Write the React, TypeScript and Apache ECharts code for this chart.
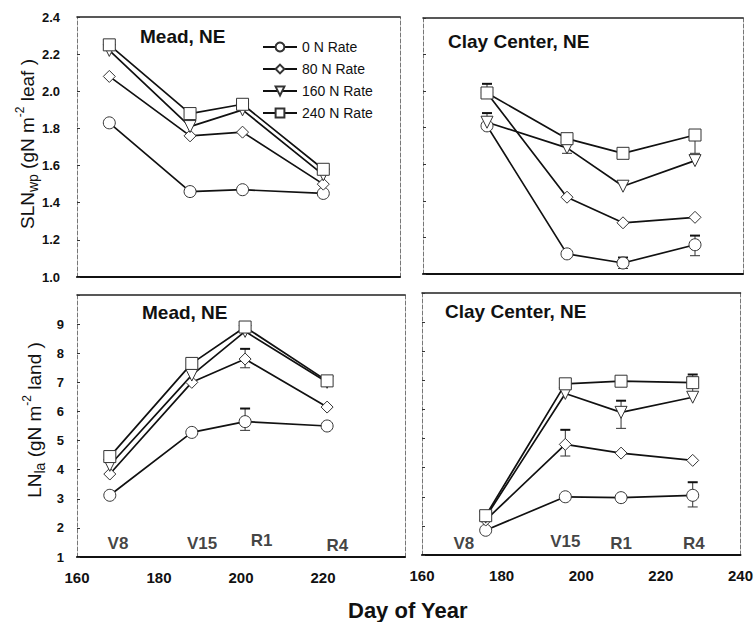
import React, { useEffect, useRef } from "react";
import * as echarts from "echarts";

const FF = '"Liberation Sans", Arial, Helvetica, sans-serif';

// Sampling days (day of year)
const daysMead = [168, 188, 201, 221];
const daysClay = [176, 196, 210, 228];

const rates = ["0 N Rate", "80 N Rate", "160 N Rate", "240 N Rate"];
const symbols = ["circle", "diamond", "triangle", "rect"];
const symbolRotations = [0, 0, 180, 0];

// SLNwp, Mead
const slnMead0 = [1.83, 1.46, 1.47, 1.45];
const slnMead80 = [2.08, 1.76, 1.78, 1.5];
const slnMead160 = [2.22, 1.81, 1.9, 1.55];
const slnMead240 = [2.25, 1.88, 1.93, 1.58];

// SLNwp, Clay Center
const slnClay0 = [1.81, 1.11, 1.06, 1.16];
const slnClay80 = [1.99, 1.42, 1.28, 1.31];
const slnClay160 = [1.83, 1.69, 1.48, 1.62];
const slnClay240 = [1.99, 1.74, 1.66, 1.76];

// LNla, Mead
const lnMead0 = [3.12, 5.28, 5.65, 5.5];
const lnMead80 = [3.85, 7.0, 7.8, 6.15];
const lnMead160 = [4.15, 7.25, 8.75, 7.0];
const lnMead240 = [4.45, 7.65, 8.9, 7.05];

// LNla, Clay Center
const lnClay0 = [1.85, 3.0, 2.97, 3.05];
const lnClay80 = [2.2, 4.8, 4.5, 4.25];
const lnClay160 = [2.3, 6.55, 5.9, 6.42];
const lnClay240 = [2.35, 6.88, 6.97, 6.92];

// Error bars [day, low, high]
const errSlnMead: number[][] = [];
const errSlnClay = [
  [176, 1.99, 2.04],
  [176, 1.81, 1.88],
  [196, 1.66, 1.76],
  [228, 1.66, 1.78],
  [210, 1.03, 1.09],
  [228, 1.1, 1.21],
];
const errLnMead = [
  [201, 7.5, 8.15],
  [201, 5.35, 6.1],
];
const errLnClay = [
  [228, 2.65, 3.5],
  [228, 6.6, 7.2],
  [210, 5.35, 6.3],
  [196, 4.4, 5.3],
];

// Growth stage labels
const stageNames = ["V8", "V15", "R1", "R4"];
const stageDaysMead = [170, 190.5, 205, 223.5];
const stageYMead = [1.48, 1.48, 1.58, 1.38];
const stageDaysClay = [170.5, 196, 210, 228.3];
const stageYClay = [1.41, 1.45, 1.41, 1.41];

const xTicks = { min: 160, max: 240, interval: 20 };
const slnTicks = { min: 1.0, max: 2.4, interval: 0.2 };
const lnTicks = { min: 1, max: 10, interval: 1 };

const panels = [
  { grid: { left: 77, top: 17, width: 323, height: 260 }, y: slnTicks, showX: false, showY: true, days: daysMead,
    vals: [slnMead0, slnMead80, slnMead160, slnMead240], err: errSlnMead, title: "Mead, NE", tl: 135, tt: 22, stages: false },
  { grid: { left: 423, top: 18, width: 320, height: 256 }, y: slnTicks, showX: false, showY: false, days: daysClay,
    vals: [slnClay0, slnClay80, slnClay160, slnClay240], err: errSlnClay, title: "Clay Center, NE", tl: 443, tt: 27, stages: false },
  { grid: { left: 77, top: 295, width: 328, height: 262 }, y: lnTicks, showX: true, showY: true, days: daysMead,
    vals: [lnMead0, lnMead80, lnMead160, lnMead240], err: errLnMead, title: "Mead, NE", tl: 137, tt: 298, stages: true,
    sd: stageDaysMead, sy: stageYMead },
  { grid: { left: 422, top: 293, width: 322, height: 262 }, y: lnTicks, showX: true, showY: false, days: daysClay,
    vals: [lnClay0, lnClay80, lnClay160, lnClay240], err: errLnClay, title: "Clay Center, NE", tl: 440, tt: 297, stages: true,
    sd: stageDaysClay, sy: stageYClay },
];

function buildOption() {
  const grid: any[] = [];
  const xAxis: any[] = [];
  const yAxis: any[] = [];
  const series: any[] = [];
  const title: any[] = [];

  panels.forEach((p, i) => {
    grid.push({ ...p.grid, containLabel: false });
    const isSln = p.y === slnTicks;
    xAxis.push({
      type: "value", gridIndex: i, position: "bottom", ...xTicks,
      axisLine: { show: true, lineStyle: { color: "#111", width: 2 } },
      axisTick: { show: false }, splitLine: { show: false },
      axisLabel: {
        show: p.showX, fontFamily: FF, fontSize: 15, fontWeight: "bold", color: "#111", margin: 13,
        formatter: (v: number) => (i === 2 && v === 240 ? "" : String(v)),
      },
    });
    xAxis.push({
      type: "value", gridIndex: i, position: "top", ...xTicks,
      axisLine: { show: true, lineStyle: { color: "#222", width: 1.6 } },
      axisTick: { show: false }, splitLine: { show: false }, axisLabel: { show: false },
    });
    yAxis.push({
      type: "value", gridIndex: i, position: "left", ...p.y,
      axisLine: { show: true, lineStyle: { color: "#777", width: 1, type: "dashed" } },
      axisTick: { show: true, inside: true, length: 3, lineStyle: { color: "#333" } },
      splitLine: { show: false },
      axisLabel: {
        show: p.showY, fontFamily: FF, fontSize: 13, fontWeight: "bold", color: "#111", margin: isSln ? 17 : 13,
        formatter: (v: number) => (isSln ? v.toFixed(1) : v === 10 ? "" : String(v)),
      },
    });
    yAxis.push({
      type: "value", gridIndex: i, position: "right", ...p.y,
      axisLine: { show: true, lineStyle: { color: "#777", width: 1, type: "dashed" } },
      axisTick: { show: false }, splitLine: { show: false }, axisLabel: { show: false },
    });

    const xi = i * 2;
    const yi = i * 2;
    rates.forEach((r, k) => {
      series.push({
        type: "line", name: r, xAxisIndex: xi, yAxisIndex: yi,
        data: p.days.map((d, j) => [d, p.vals[k][j]]),
        symbol: symbols[k], symbolRotate: symbolRotations[k],
        symbolSize: 12,
        showSymbol: true, z: 3,
        lineStyle: { color: "#111", width: 1.7 },
        itemStyle: { color: "#fff", borderColor: "#333", borderWidth: 1 },
      });
    });
    if (p.err.length) {
      series.push({
        type: "custom", xAxisIndex: xi, yAxisIndex: yi, z: 2,
        data: p.err,
        renderItem: (params: any, api: any) => {
          const x = api.value(0);
          const a = api.coord([x, api.value(1)]);
          const b = api.coord([x, api.value(2)]);
          const w = 5;
          const st = { stroke: "#333", lineWidth: 1 };
          return {
            type: "group",
            children: [
              { type: "line", shape: { x1: a[0], y1: a[1], x2: b[0], y2: b[1] }, style: st },
              { type: "line", shape: { x1: a[0] - w, y1: a[1], x2: a[0] + w, y2: a[1] }, style: st },
              { type: "line", shape: { x1: b[0] - w, y1: b[1], x2: b[0] + w, y2: b[1] }, style: { stroke: "#111", lineWidth: 2 } },
            ],
          };
        },
      });
    }
    if (p.stages) {
      series.push({
        type: "scatter", xAxisIndex: xi, yAxisIndex: yi, symbolSize: 0, z: 4,
        data: stageNames.map((n, j) => ({ name: n, value: [(p as any).sd[j], (p as any).sy[j]] })),
        label: {
          show: true, position: "inside", formatter: "{b}",
          fontFamily: FF, fontSize: 17, fontWeight: "bold", color: "#111",
        },
        silent: true,
      });
    }
    title.push({
      text: p.title, left: p.tl, top: p.tt,
      textStyle: { fontFamily: FF, fontSize: 19, fontWeight: "bold", color: "#111" },
    });
  });

  title.push({
    text: "Day of Year", left: 343, top: 594,
    textStyle: { fontFamily: FF, fontSize: 22, fontWeight: "bold", color: "#111" },
  });

  const rich = {
    a: { fontFamily: FF, fontSize: 19, lineHeight: 26, verticalAlign: "middle", fill: "#111", color: "#111" },
    b: { fontFamily: FF, fontSize: 14, lineHeight: 14, verticalAlign: "bottom", fill: "#111", color: "#111" },
    c: { fontFamily: FF, fontSize: 12, lineHeight: 12, verticalAlign: "top", fill: "#111", color: "#111" },
  };

  return {
    animation: false,
    backgroundColor: "#fff",
    title,
    grid,
    xAxis,
    yAxis,
    series,
    legend: {
      data: rates, orient: "vertical", left: 257, top: 35,
      itemWidth: 34, itemHeight: 11, itemGap: 8,
      textStyle: { fontFamily: FF, fontSize: 14, color: "#111" },
    },
    graphic: [
      {
        type: "text", x: 27, y: 144, rotation: Math.PI / 2,
        style: { text: "{a|SLN}{b|wp}{a| (gN m}{c|-2}{a| leaf )}", rich, align: "center", verticalAlign: "middle", fill: "#111" },
      },
      {
        type: "text", x: 34, y: 420, rotation: Math.PI / 2,
        style: { text: "{a|LN}{b|la}{a| (gN m}{c|-2}{a| land )}", rich, align: "center", verticalAlign: "middle", fill: "#111" },
      },
    ],
  };
}

export default function App() {
  const ref = useRef<HTMLDivElement>(null);
  useEffect(() => {
    document.body.style.margin = "0";
    const chart = echarts.init(ref.current!, undefined, { renderer: "svg" });
    chart.setOption(buildOption() as any);
    return () => chart.dispose();
  }, []);
  return <div ref={ref} style={{ width: 756, height: 622 }} />;
}
